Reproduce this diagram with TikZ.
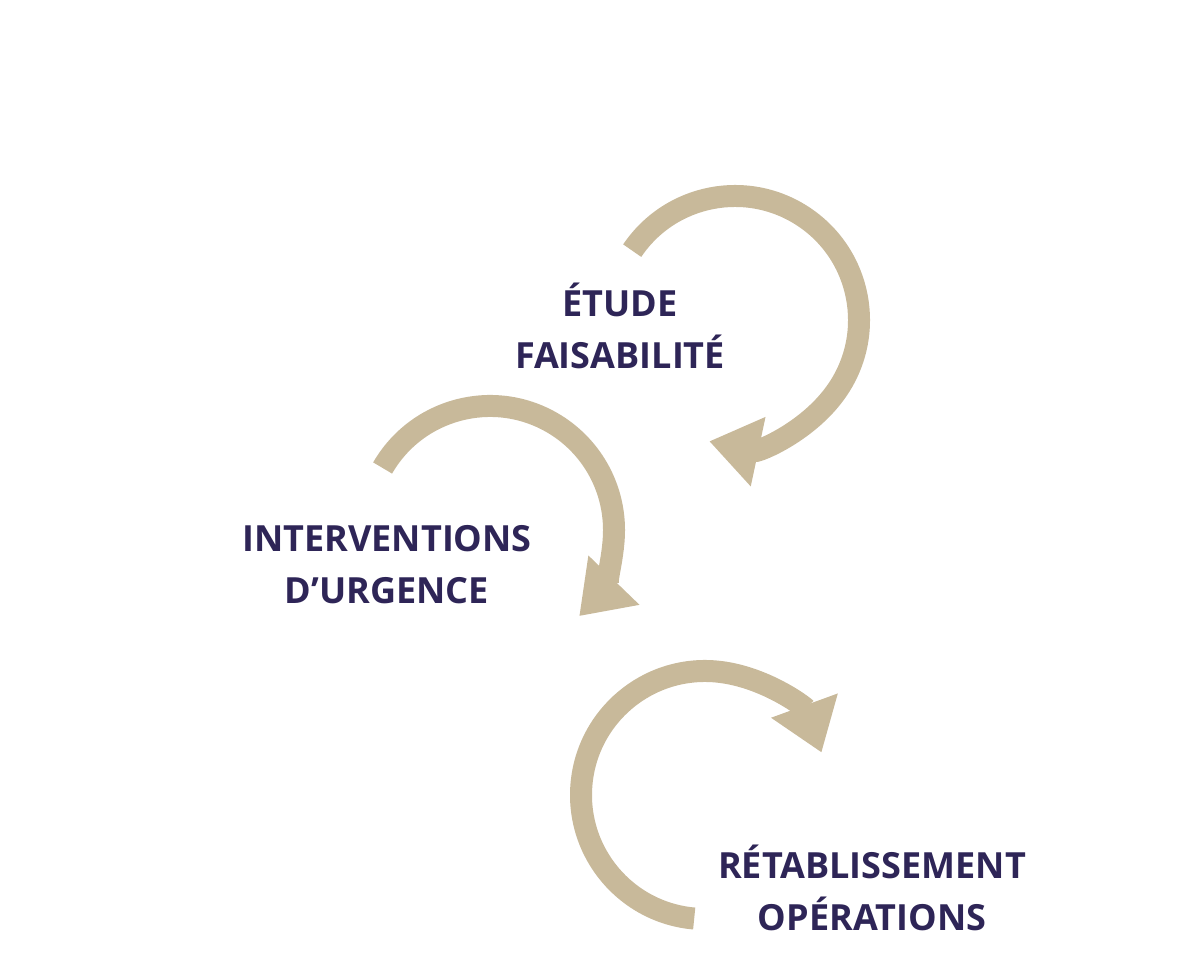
\documentclass[tikz,border=0pt]{standalone}
\usepackage{fontspec}
\setmainfont{Open Sans}
\usetikzlibrary{arrows.meta}
\definecolor{sable}{HTML}{C8B99A}
\definecolor{encre}{HTML}{2E2557}
\begin{document}
\begin{tikzpicture}
			\tikzset{etape/.style={align=center, text=encre, font=\bfseries\fontsize{20.5}{29.5}\selectfont}, boucle/.style={draw=sable, line width=0.44cm, -{Triangle[length=1.0cm, width=1.35cm]}}};
			\useasboundingbox (0,0) rectangle (24,19.12);

			\coordinate (c1) at (14.7, 12.72);
			\coordinate (c2) at ( 9.8,  8.52);
			\coordinate (c3) at (14.1,  3.22);

			\node[etape] (etude) at (12.4, 12.6) {ÉTUDE\\FAISABILITÉ};
			\node[etape] (urgence) at (7.74, 7.82) {INTERVENTIONS\\D'URGENCE};
			\node[etape] (retab) at (17.44, 1.36) {RÉTABLISSEMENT\\OPÉRATIONS};

			\draw[boucle] (c1) ++(146:2.48) arc[start angle=146, end angle=-102, radius=2.48cm];
			\draw[boucle] (c2) ++(150:2.48) arc[start angle=150, end angle=-44, radius=2.48cm];
			\draw[boucle] (c3) ++(265:2.48) arc[start angle=265, end angle=20, radius=2.48cm];
		\end{tikzpicture}
\end{document}
